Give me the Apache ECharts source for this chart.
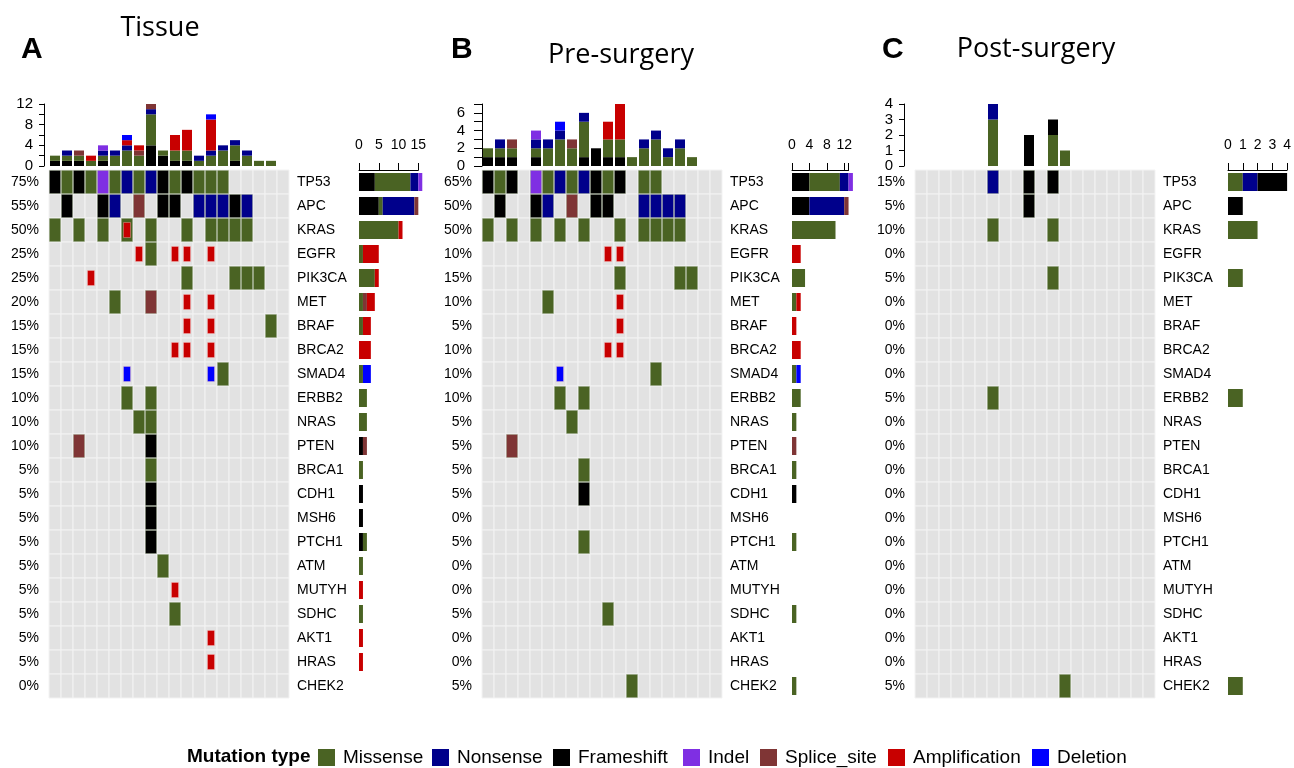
<!DOCTYPE html>
<html><head><meta charset="utf-8">
<script src="https://cdn.jsdelivr.net/npm/echarts@6/dist/echarts.min.js"></script>
<style>html,body{margin:0;padding:0;background:#fff}#c{width:1294px;height:768px}</style>
</head><body><div id="c"></div>
<script>
// ---------- DATA ----------
const genes = ['TP53','APC','KRAS','EGFR','PIK3CA','MET','BRAF','BRCA2','SMAD4','ERBB2','NRAS','PTEN','BRCA1','CDH1','MSH6','PTCH1','ATM','MUTYH','SDHC','AKT1','HRAS','CHEK2'];
const samples = ['S1','S2','S3','S4','S5','S6','S7','S8','S9','S10','S11','S12','S13','S14','S15','S16','S17','S18','S19','S20'];
const typeNames = ['Frameshift','Missense','Nonsense','Indel','Splice_site','Amplification','Deletion'];
const typeCodes = ['F','M','N','I','S','A','D'];
const typeColors = ['#000000','#4a6323','#00008b','#7f2fe3','#7f3535','#c80000','#0000ff'];
const legendOrder = ['Missense','Nonsense','Frameshift','Indel','Splice_site','Amplification','Deletion'];

// Panel A: Tissue
const tissuePct = ['75%','55%','50%','25%','25%','20%','15%','15%','15%','10%','10%','10%','5%','5%','5%','5%','5%','5%','5%','5%','5%','0%'];
const tissueMatrix = [
  'F M F M I M N M N F M F M M M . . . . .',
  '. F . . F N . S . F F . N N N F N . . .',
  'M . M . M . MA . M . . M . M M M M . . .',
  '. . . . . . . A M . A A . A . . . . . .',
  '. . . A . . . . . . . M . . . M M M . .',
  '. . . . . M . . S . . A . A . . . . . .',
  '. . . . . . . . . . . A . A . . . . M .',
  '. . . . . . . . . . A A . A . . . . . .',
  '. . . . . . D . . . . . . D M . . . . .',
  '. . . . . . M . M . . . . . . . . . . .',
  '. . . . . . . M M . . . . . . . . . . .',
  '. . S . . . . . F . . . . . . . . . . .',
  '. . . . . . . . M . . . . . . . . . . .',
  '. . . . . . . . F . . . . . . . . . . .',
  '. . . . . . . . F . . . . . . . . . . .',
  '. . . . . . . . F . . . . . . . . . . .',
  '. . . . . . . . . M . . . . . . . . . .',
  '. . . . . . . . . . A . . . . . . . . .',
  '. . . . . . . . . . M . . . . . . . . .',
  '. . . . . . . . . . . . . A . . . . . .',
  '. . . . . . . . . . . . . A . . . . . .',
  '. . . . . . . . . . . . . . . . . . . .'
];
// per sample counts [F,M,N,I,S,A,D]
const tissueTop = [
  [1,1,0,0,0,0,0],[1,1,1,0,0,0,0],[1,1,0,0,1,0,0],[0,1,0,0,0,1,0],[1,1,1,1,0,0,0],
  [0,2,1,0,0,0,0],[0,3,1,0,0,1,1],[0,2,0,0,1,1,0],[4,6,1,0,1,0,0],[2,1,0,0,0,0,0],
  [1,2,0,0,0,3,0],[1,2,0,0,0,4,0],[0,1,1,0,0,0,0],[0,2,1,0,0,6,1],[0,3,1,0,0,0,0],
  [1,3,1,0,0,0,0],[0,2,1,0,0,0,0],[0,1,0,0,0,0,0],[0,1,0,0,0,0,0],[0,0,0,0,0,0,0]
];
// per gene counts [F,M,N,I,S,A,D]
const tissueRight = [
  [4,9,2,1,0,0,0],[5,1,8,0,1,0,0],[0,10,0,0,0,1,0],[0,1,0,0,0,4,0],[0,4,0,0,0,1,0],
  [0,1,0,0,1,2,0],[0,1,0,0,0,2,0],[0,0,0,0,0,3,0],[0,1,0,0,0,0,2],[0,2,0,0,0,0,0],
  [0,2,0,0,0,0,0],[1,0,0,0,1,0,0],[0,1,0,0,0,0,0],[1,0,0,0,0,0,0],[1,0,0,0,0,0,0],
  [1,1,0,0,0,0,0],[0,1,0,0,0,0,0],[0,0,0,0,0,1,0],[0,1,0,0,0,0,0],[0,0,0,0,0,1,0],
  [0,0,0,0,0,1,0],[0,0,0,0,0,0,0]
];

// Panel B: Pre-surgery
const prePct = ['65%','50%','50%','10%','15%','10%','5%','10%','10%','10%','5%','5%','5%','5%','0%','5%','0%','0%','5%','0%','0%','5%'];
const preMatrix = [
  'F M F . I M N M N F M F . M M . . . . .',
  '. F . . F N . S . F F . . N N N N . . .',
  'M . M . M . M . M . . M . M M M M . . .',
  '. . . . . . . . . . A A . . . . . . . .',
  '. . . . . . . . . . . M . . . . M M . .',
  '. . . . . M . . . . . A . . . . . . . .',
  '. . . . . . . . . . . A . . . . . . . .',
  '. . . . . . . . . . A A . . . . . . . .',
  '. . . . . . D . . . . . . . M . . . . .',
  '. . . . . . M . M . . . . . . . . . . .',
  '. . . . . . . M . . . . . . . . . . . .',
  '. . S . . . . . . . . . . . . . . . . .',
  '. . . . . . . . M . . . . . . . . . . .',
  '. . . . . . . . F . . . . . . . . . . .',
  '. . . . . . . . . . . . . . . . . . . .',
  '. . . . . . . . M . . . . . . . . . . .',
  '. . . . . . . . . . . . . . . . . . . .',
  '. . . . . . . . . . . . . . . . . . . .',
  '. . . . . . . . . . M . . . . . . . . .',
  '. . . . . . . . . . . . . . . . . . . .',
  '. . . . . . . . . . . . . . . . . . . .',
  '. . . . . . . . . . . . M . . . . . . .'
];
const preTop = [
  [1,1,0,0,0,0,0],[1,1,1,0,0,0,0],[1,1,0,0,1,0,0],[0,0,0,0,0,0,0],[1,1,1,1,0,0,0],
  [0,2,1,0,0,0,0],[0,3,1,0,0,0,1],[0,2,0,0,1,0,0],[1,4,1,0,0,0,0],[2,0,0,0,0,0,0],
  [1,2,0,0,0,2,0],[1,2,0,0,0,4,0],[0,1,0,0,0,0,0],[0,2,1,0,0,0,0],[0,3,1,0,0,0,0],
  [0,1,1,0,0,0,0],[0,2,1,0,0,0,0],[0,1,0,0,0,0,0],[0,0,0,0,0,0,0],[0,0,0,0,0,0,0]
];
const preRight = [
  [4,7,2,1,0,0,0],[4,0,8,0,1,0,0],[0,10,0,0,0,0,0],[0,0,0,0,0,2,0],[0,3,0,0,0,0,0],
  [0,1,0,0,0,1,0],[0,0,0,0,0,1,0],[0,0,0,0,0,2,0],[0,1,0,0,0,0,1],[0,2,0,0,0,0,0],
  [0,1,0,0,0,0,0],[0,0,0,0,1,0,0],[0,1,0,0,0,0,0],[1,0,0,0,0,0,0],[0,0,0,0,0,0,0],
  [0,1,0,0,0,0,0],[0,0,0,0,0,0,0],[0,0,0,0,0,0,0],[0,1,0,0,0,0,0],[0,0,0,0,0,0,0],
  [0,0,0,0,0,0,0],[0,1,0,0,0,0,0]
];

// Panel C: Post-surgery
const postPct = ['15%','5%','10%','0%','5%','0%','0%','0%','0%','5%','0%','0%','0%','0%','0%','0%','0%','0%','0%','0%','0%','5%'];
const postMatrix = [
  '. . . . . . N . . F . F . . . . . . . .',
  '. . . . . . . . . F . . . . . . . . . .',
  '. . . . . . M . . . . M . . . . . . . .',
  '. . . . . . . . . . . . . . . . . . . .',
  '. . . . . . . . . . . M . . . . . . . .',
  '. . . . . . . . . . . . . . . . . . . .',
  '. . . . . . . . . . . . . . . . . . . .',
  '. . . . . . . . . . . . . . . . . . . .',
  '. . . . . . . . . . . . . . . . . . . .',
  '. . . . . . M . . . . . . . . . . . . .',
  '. . . . . . . . . . . . . . . . . . . .',
  '. . . . . . . . . . . . . . . . . . . .',
  '. . . . . . . . . . . . . . . . . . . .',
  '. . . . . . . . . . . . . . . . . . . .',
  '. . . . . . . . . . . . . . . . . . . .',
  '. . . . . . . . . . . . . . . . . . . .',
  '. . . . . . . . . . . . . . . . . . . .',
  '. . . . . . . . . . . . . . . . . . . .',
  '. . . . . . . . . . . . . . . . . . . .',
  '. . . . . . . . . . . . . . . . . . . .',
  '. . . . . . . . . . . . . . . . . . . .',
  '. . . . . . . . . . . . M . . . . . . .'
];
const postTop = [
  [0,0,0,0,0,0,0],[0,0,0,0,0,0,0],[0,0,0,0,0,0,0],[0,0,0,0,0,0,0],[0,0,0,0,0,0,0],
  [0,0,0,0,0,0,0],[0,3,1,0,0,0,0],[0,0,0,0,0,0,0],[0,0,0,0,0,0,0],[2,0,0,0,0,0,0],
  [0,0,0,0,0,0,0],[1,2,0,0,0,0,0],[0,1,0,0,0,0,0],[0,0,0,0,0,0,0],[0,0,0,0,0,0,0],
  [0,0,0,0,0,0,0],[0,0,0,0,0,0,0],[0,0,0,0,0,0,0],[0,0,0,0,0,0,0],[0,0,0,0,0,0,0]
];
const postRight = [
  [2,1,1,0,0,0,0],[1,0,0,0,0,0,0],[0,2,0,0,0,0,0],[0,0,0,0,0,0,0],[0,1,0,0,0,0,0],
  [0,0,0,0,0,0,0],[0,0,0,0,0,0,0],[0,0,0,0,0,0,0],[0,0,0,0,0,0,0],[0,1,0,0,0,0,0],
  [0,0,0,0,0,0,0],[0,0,0,0,0,0,0],[0,0,0,0,0,0,0],[0,0,0,0,0,0,0],[0,0,0,0,0,0,0],
  [0,0,0,0,0,0,0],[0,0,0,0,0,0,0],[0,0,0,0,0,0,0],[0,0,0,0,0,0,0],[0,0,0,0,0,0,0],
  [0,0,0,0,0,0,0],[0,1,0,0,0,0,0]
];
const panelTitles = ['Tissue','Pre-surgery','Post-surgery'];
const panelLetters = ['A','B','C'];

// ---------- LAYOUT ----------
const LABEL_FONT = 'Liberation Sans, Arial, sans-serif';
const MAT_TOP = 170, ROW_H = 24, COL_W = 12;
const layout = [
  {mx:49,  topMax:12, topInt:2, topLbl:4, topOffset:5, tickLen:5, lblMargin:11, rx:359,  rMax:15, rInt:5, rUnit:3.955,
   letterX:21, titleX:160, titleY:15, order:[0,1,2,3,4,5,6]},
  {mx:482, topMax:7,  topInt:1, topLbl:2, topOffset:0, tickLen:8, lblMargin:17, rx:792,  rMax:13, rInt:4, rUnit:4.35,
   letterX:451, titleX:621, titleY:42, order:[0,1,2,3,4,5,6]},
  {mx:915, topMax:4,  topInt:1, topLbl:1, topOffset:11, tickLen:5, lblMargin:11, rx:1228, rMax:4,  rInt:1, rUnit:15,
   letterX:882, titleX:1036, titleY:36, order:[1,2,0,3,4,5,6]}
];
const panelData = [
  {pct:tissuePct, mat:tissueMatrix, top:tissueTop, right:tissueRight},
  {pct:prePct, mat:preMatrix, top:preTop, right:preRight},
  {pct:postPct, mat:postMatrix, top:postTop, right:postRight}
];
const legendLeft = [318, 432, 553, 683, 760, 888, 1032];

const grids = [], xAxes = [], yAxes = [], series = [], graphics = [];
const matH = genes.length * ROW_H, matW = samples.length * COL_W;

function bgRender(params, api) {
  const c = api.coord([api.value(0), api.value(1)]);
  const s = api.size([1, 1]);
  return {type:'rect', shape:{x:c[0]-s[0]/2, y:c[1]-s[1]/2, width:s[0], height:s[1]},
          style:{fill:'#e2e2e2', stroke:'#f3f3f3', lineWidth:1}};
}
function mutRender(params, api) {
  const c = api.coord([api.value(0), api.value(1)]);
  const s = api.size([1, 1]);
  const t = api.value(2);
  const narrow = (typeCodes[t] === 'A' || typeCodes[t] === 'D');
  const w = narrow ? 7 : s[0] - 1;
  const h = narrow ? 15 : s[1] - 1;
  return {type:'rect', shape:{x:c[0]-w/2, y:c[1]-h/2, width:w, height:h},
          style:{fill:typeColors[t], stroke: narrow ? 'rgba(255,200,200,0.6)' : 'rgba(140,160,120,0.5)', lineWidth:0.6}};
}

layout.forEach((L, k) => {
  const D = panelData[k];
  const gMat = grids.length;
  grids.push({left:L.mx, top:MAT_TOP, width:matW, height:matH});
  const gTop = grids.length;
  grids.push({left:L.mx, top:104, width:matW, height:62});
  const gRight = grids.length;
  grids.push({left:L.rx, top:MAT_TOP, width:L.rMax * L.rUnit, height:matH});

  const xMat = xAxes.length;
  xAxes.push({type:'category', gridIndex:gMat, data:samples, show:false});
  const yMat = yAxes.length;
  yAxes.push({type:'category', gridIndex:gMat, data:genes, inverse:true, position:'right',
    axisLine:{show:false}, axisTick:{show:false},
    axisLabel:{color:'#000', fontSize:14, fontFamily:LABEL_FONT, margin:8}});
  yAxes.push({type:'category', gridIndex:gMat, data:genes, inverse:true, position:'left',
    axisLine:{show:false}, axisTick:{show:false},
    axisLabel:{color:'#000', fontSize:14, fontFamily:LABEL_FONT, margin:10,
      formatter:(v, i) => D.pct[i]}});

  const xTop = xAxes.length;
  xAxes.push({type:'category', gridIndex:gTop, data:samples, show:false});
  const yTop = yAxes.length;
  yAxes.push({type:'value', gridIndex:gTop, min:0, max:L.topMax, interval:L.topInt, position:'left', offset:L.topOffset,
    splitLine:{show:false},
    axisLine:{show:true, lineStyle:{color:'#000', width:1}},
    axisTick:{show:true, length:L.tickLen, lineStyle:{color:'#000'}},
    axisLabel:{color:'#000', fontSize:15, fontFamily:LABEL_FONT, margin:L.lblMargin,
      formatter:(v) => (v % L.topLbl === 0 ? String(v) : '')}});

  const xRight = xAxes.length;
  xAxes.push({type:'value', gridIndex:gRight, min:0, max:L.rMax, interval:L.rInt, position:'top',
    splitLine:{show:false},
    axisLine:{show:true, lineStyle:{color:'#000', width:1}},
    axisTick:{show:true, length:7, lineStyle:{color:'#000'}},
    axisLabel:{color:'#000', fontSize:14, fontFamily:LABEL_FONT, margin:18, showMaxLabel:true,
      formatter:(v) => (v % L.rInt === 0 ? String(v) : '')}});
  const yRight = yAxes.length;
  yAxes.push({type:'category', gridIndex:gRight, data:genes, inverse:true, show:false});

  const bg = [];
  genes.forEach((g, j) => samples.forEach((s, i) => bg.push([i, j])));
  series.push({type:'custom', xAxisIndex:xMat, yAxisIndex:yMat, renderItem:bgRender, data:bg, silent:true, z:1});

  const full = [], narrow = [];
  D.mat.forEach((row, j) => {
    row.split(' ').forEach((tok, i) => {
      if (tok === '.') return;
      tok.split('').forEach(ch => {
        const t = typeCodes.indexOf(ch);
        (ch === 'A' || ch === 'D' ? narrow : full).push([i, j, t]);
      });
    });
  });
  series.push({type:'custom', xAxisIndex:xMat, yAxisIndex:yMat, renderItem:mutRender, data:full.concat(narrow), z:2});

  L.order.forEach((t) => {
    const name = typeNames[t];
    series.push({type:'bar', name:name, xAxisIndex:xTop, yAxisIndex:yTop, stack:'top'+k,
      barWidth:10, data:D.top.map(r => r[t]), itemStyle:{color:typeColors[t]}, clip:false, z:3});
    series.push({type:'bar', name:name, xAxisIndex:xRight, yAxisIndex:yRight, stack:'right'+k,
      barWidth:18, data:D.right.map(r => r[t]), itemStyle:{color:typeColors[t]}, clip:false, z:3});
  });

  graphics.push({type:'text', left:L.letterX, top:35,
    style:{text:panelLetters[k], font:'bold 30px Liberation Sans, Arial, sans-serif', fill:'#000'}});
  graphics.push({type:'text', x:L.titleX, y:L.titleY,
    style:{text:panelTitles[k], font:'27px "Open Sans", "Noto Sans", sans-serif', fill:'#000', align:'center', verticalAlign:'top'}});
});

graphics.push({type:'text', left:187, top:747,
  style:{text:'Mutation type', font:'bold 19px Liberation Sans, Arial, sans-serif', fill:'#000'}});

const legends = legendOrder.map((name, i) => ({
  data:[name], left:legendLeft[i], top:748, icon:'rect', itemWidth:17, itemHeight:17,
  selectedMode:false, padding:0,
  textStyle:{fontSize:19, color:'#000', fontFamily:LABEL_FONT, padding:[0,0,0,3]}
}));

const chart = echarts.init(document.getElementById('c'), null, {renderer:'canvas'});
chart.setOption({
  animation:false,
  backgroundColor:'#fff',
  grid:grids, xAxis:xAxes, yAxis:yAxes, series:series, graphic:graphics,
  legend:legends,
  tooltip:{show:false}
});
</script></body></html>
